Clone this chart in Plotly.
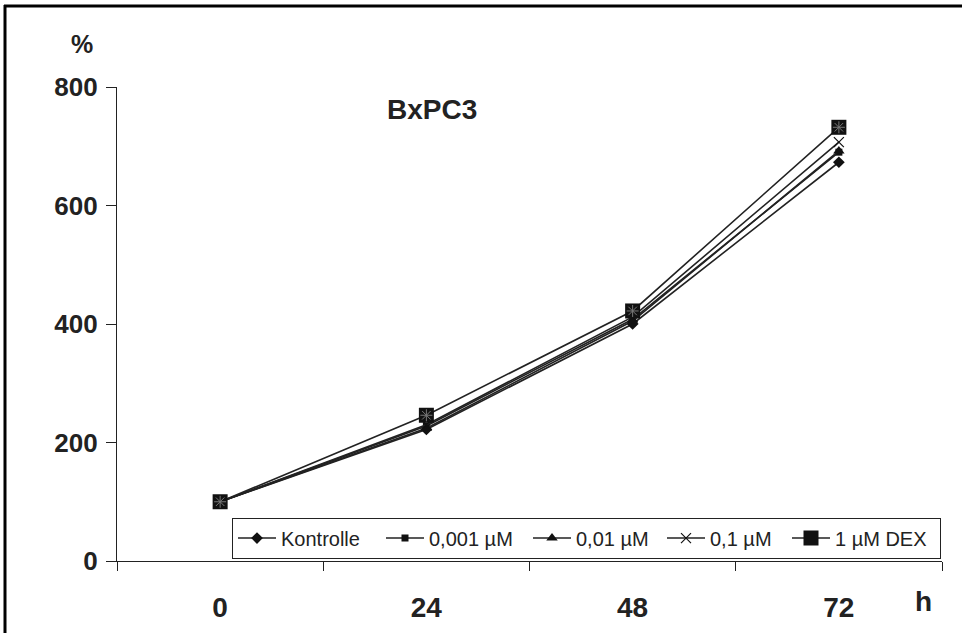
import plotly.graph_objects as go

hours = ["0", "24", "48", "72"]
series_names = ["Kontrolle", "0,001 µM", "0,01 µM", "0,1 µM", "1 µM DEX"]
kontrolle = [100, 222, 400, 673]
dex_0001 = [100, 228, 408, 690]
dex_001 = [100, 224, 405, 692]
dex_01 = [100, 230, 412, 707]
dex_1 = [100, 246, 422, 732]
y_ticks = [0, 200, 400, 600, 800]

values = [kontrolle, dex_0001, dex_001, dex_01, dex_1]
markers = [
    dict(symbol="diamond", size=9, color="#111"),
    dict(symbol="square", size=7, color="#111"),
    dict(symbol="triangle-up", size=10, color="#111"),
    dict(symbol="x-thin", size=10, color="#111", line=dict(width=1.2, color="#111")),
    dict(symbol="square", size=15, color="#111"),
]
legend_widths = [95, 94, 81, 72, 100]

font_main = "Liberation Sans, Arial, sans-serif"

fig = go.Figure()
for name, vals, mk, lw in zip(series_names, values, markers, legend_widths):
    fig.add_trace(go.Scatter(
        x=hours, y=vals, name=name, mode="lines+markers",
        line=dict(color="#222", width=1.6), marker=mk, legendwidth=lw,
    ))
fig.add_trace(go.Scatter(
    x=hours, y=dex_1, mode="markers", showlegend=False, hoverinfo="skip",
    marker=dict(symbol="asterisk-open", size=10, color="#777", line=dict(width=1, color="#777")),
))

L, R, T, B = 117, 20, 87, 68
W, H = 962 - L - R, 635 - T - B
def px(x):
    return (x - L) / W
def py(y):
    return (635 - B - y) / H

fig.update_layout(
    width=962, height=635,
    margin=dict(l=L, r=R, t=T, b=B),
    plot_bgcolor="white", paper_bgcolor="white",
    font=dict(family=font_main, color="#222"),
    showlegend=True,
    legend=dict(
        orientation="h", x=px(232), y=py(523), xanchor="left", yanchor="top",
        bordercolor="#222", borderwidth=1, bgcolor="white",
        font=dict(size=20, family=font_main, color="#222"),
        itemwidth=38, tracegroupgap=0,
    ),
    xaxis=dict(
        type="category", range=[-0.5, 3.5], tickson="boundaries",
        showline=True, linecolor="#222", linewidth=1.2,
        ticks="outside", ticklen=9, tickcolor="#222", tickwidth=1.2,
        tickfont=dict(size=28, family=font_main, weight="bold", color="#222"),
        ticklabelstandoff=21,
        showgrid=False, zeroline=False,
    ),
    yaxis=dict(
        range=[0, 800], tickvals=y_ticks,
        showline=True, linecolor="#222", linewidth=1.2,
        ticks="outside", ticklen=10, tickcolor="#222", tickwidth=1.2,
        tickfont=dict(size=26, family=font_main, weight="bold", color="#222"),
        ticklabelstandoff=3,
        showgrid=False, zeroline=False,
    ),
    annotations=[
        dict(text="<b>BxPC3</b>", x=px(432), y=py(110), xref="paper", yref="paper",
             xanchor="center", yanchor="middle",
             showarrow=False, font=dict(size=28, family=font_main, color="#222")),
        dict(text="<b>%</b>", x=px(82), y=py(43), xref="paper", yref="paper",
             xanchor="center", yanchor="middle",
             showarrow=False, font=dict(size=25, family=font_main, color="#222")),
        dict(text="<b>h</b>", x=px(923), y=py(608), xref="paper", yref="paper",
             xanchor="center", yanchor="middle",
             showarrow=False, font=dict(size=28, family=font_main, color="#222")),
    ],
)

fig.add_shape(type="line", xref="paper", yref="paper", x0=px(4), x1=px(962), y0=py(5), y1=py(5),
              line=dict(color="black", width=3))
fig.add_shape(type="line", xref="paper", yref="paper", x0=px(5), x1=px(5), y0=py(4), y1=py(640),
              line=dict(color="black", width=3))

fig.write_html("out.html", config={"displayModeBar": False},
               post_script="document.body.style.margin='0px';document.body.style.overflow='hidden';")
